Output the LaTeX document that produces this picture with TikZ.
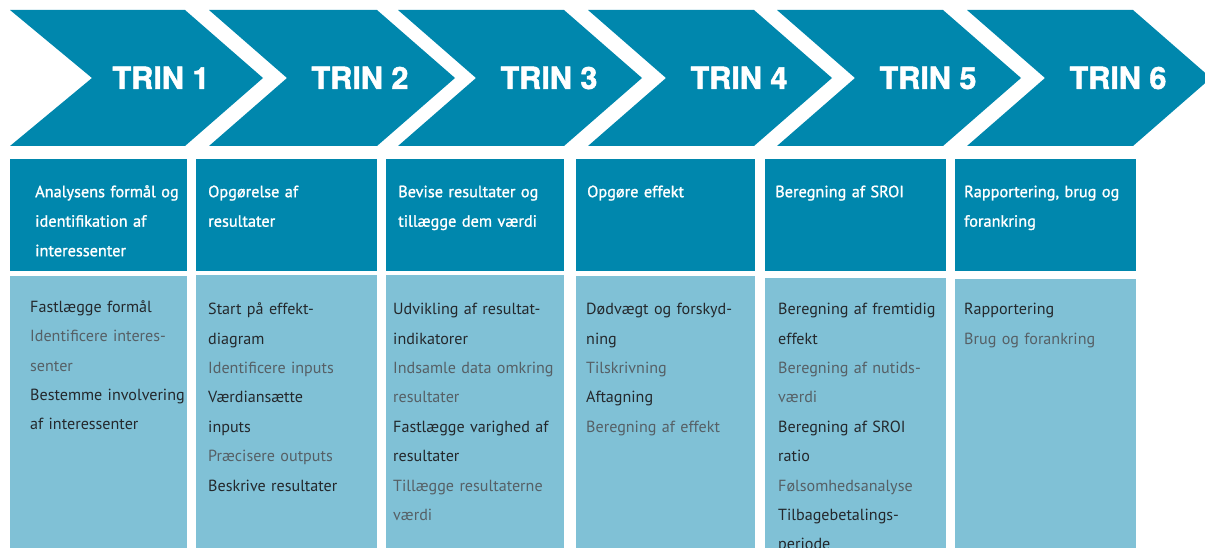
\documentclass[tikz,border=0pt]{standalone}
\usepackage{fontspec}
\usepackage{tikz}
\usetikzlibrary{positioning}
\newfontfamily\dinfont{PT Sans}
\newfontfamily\dinheadfont{PT Sans}[FakeBold=1.2]
\newfontfamily\trinfont{TeX Gyre Heros}[BoldFeatures={FakeBold=1.5}]
\definecolor{trinblue}{RGB}{0,135,173}
\definecolor{lightblue}{RGB}{128,193,214}
\definecolor{darktext}{RGB}{36,40,44}
\definecolor{graytext}{RGB}{86,96,102}
\newcommand{\trinstrut}{\rule{0pt}{14pt}}
\tikzstyle{chevron}=[fill=trinblue, draw=none]
\tikzstyle{trin}=[text=white, anchor=base, inner sep=0pt, font=\trinfont\bfseries\fontsize{30.6}{31}\selectfont]
\tikzstyle{headbox}=[rectangle, fill=trinblue, anchor=north west, inner sep=0pt, outer sep=0pt]
\tikzstyle{bodybox}=[rectangle, fill=lightblue, anchor=north west, inner sep=0pt, outer sep=0pt]
\tikzstyle{headtext}=[anchor=north west, inner sep=0pt, text width=250pt, align=left, text=white, font=\dinheadfont\fontsize{16.3}{29.5}\selectfont]
\tikzstyle{bodytext}=[anchor=north west, inner sep=0pt, text width=250pt, align=left, text=darktext, font=\dinfont\fontsize{16.1}{29.4}\selectfont]

\begin{document}
\begin{tikzpicture}[x=1pt, y=-1pt]
	\useasboundingbox (0,0) rectangle (1205,548);
	\clip (0,0) rectangle (1205,548);
	% arrows
	\path[chevron] (10,10) -- (185,10) -- (263,78) -- (185,146) -- (10,146) -- (92,78) -- cycle;
	\foreach \l/\r in {209/377, 398/564, 588/754, 777/943, 967/1133}
		\path[chevron] (\l,10) -- (\r,10) -- (\r+78,78) -- (\r,146) -- (\l,146) -- (\l+78,78) -- cycle;
	\foreach \x [count=\i] in {161,360,549,739,928,1118}
		\node[trin] (trin\i) at (\x,89) {TRIN \i};
	% boxes
	\foreach \l/\r/\t [count=\i] in {10/187/276, 196/377/275, 386/564/275, 576/755/276, 765/946/278, 955/1136/279} {
		\node[headbox, minimum width=\r-\l, minimum height=112] (head\i) at (\l,159) {};
		\node[bodybox, minimum width=\r-\l, minimum height=560-\t] (body\i) at (\l,\t) {};
	}
	% headings
	\node[headtext] (headtext1) at (35,183) {\trinstrut Analysens formål og\\identifikation af\\interessenter};
	\node[headtext] (headtext2) at (208,183) {\trinstrut Opgørelse af\\resultater};
	\node[headtext] (headtext3) at (398,183) {\trinstrut Bevise resultater og\\tillægge dem værdi};
	\node[headtext] (headtext4) at (587,183) {\trinstrut Opgøre effekt};
	\node[headtext] (headtext5) at (775,183) {\trinstrut Beregning af SROI};
	\node[headtext] (headtext6) at (964,183) {\trinstrut Rapportering, brug og\\forankring};
	% steps
	\node[bodytext] (bodytext1) at (30,298) {\trinstrut Fastlægge formål\\\color{graytext}Identificere interes-\\senter\\\color{darktext}Bestemme involvering\\af interessenter};
	\node[bodytext] (bodytext2) at (208,300.5) {\trinstrut Start på effekt-\\diagram\\\color{graytext}Identificere inputs\\\color{darktext}Værdiansætte\\inputs\\\color{graytext}Præcisere outputs\\\color{darktext}Beskrive resultater};
	\node[bodytext] (bodytext3) at (393,300.5) {\trinstrut Udvikling af resultat-\\indikatorer\\\color{graytext}Indsamle data omkring\\resultater\\\color{darktext}Fastlægge varighed af\\resultater\\\color{graytext}Tillægge resultaterne\\værdi};
	\node[bodytext] (bodytext4) at (586,300.5) {\trinstrut Dødvægt og forskyd-\\ning\\\color{graytext}Tilskrivning\\\color{darktext}Aftagning\\\color{graytext}Beregning af effekt};
	\node[bodytext] (bodytext5) at (778,300.5) {\trinstrut Beregning af fremtidig\\effekt\\\color{graytext}Beregning af nutids-\\værdi\\\color{darktext}Beregning af SROI\\ratio\\\color{graytext}Følsomhedsanalyse\\\color{darktext}Tilbagebetalings-\\periode};
	\node[bodytext] (bodytext6) at (964,300.5) {\trinstrut Rapportering\\\color{graytext}Brug og forankring};
\end{tikzpicture}
\end{document}
